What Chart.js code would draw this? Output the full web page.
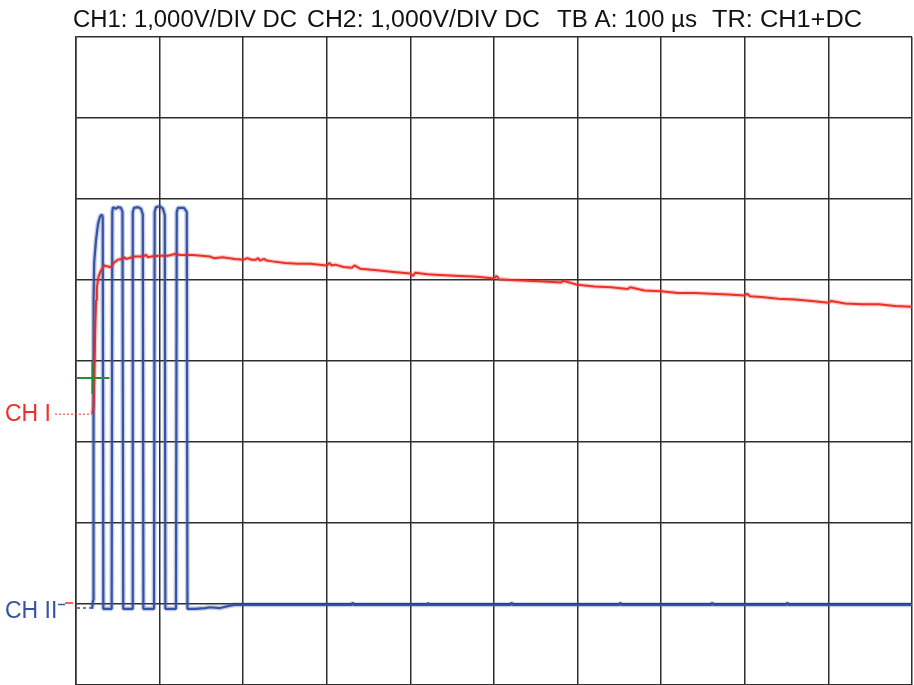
<!DOCTYPE html>
<html>
<head>
<meta charset="utf-8">
<script src="https://cdn.jsdelivr.net/npm/chart.js@4.4.1/dist/chart.umd.min.js"></script>
<style>
  html, body { margin: 0; padding: 0; background: #ffffff; }
  #scope { display: block; }
</style>
</head>
<body>
<canvas id="scope" width="914" height="685"></canvas>
<script>
// Header readout, split into its four groups
const headerGroups = ['CH1: 1,000V/DIV DC', 'CH2: 1,000V/DIV DC', 'TB A: 100 µs', 'TR: CH1+DC'];

// Time base: 100 µs per division, 10 divisions
const timeDivs = 10;
const usPerDiv = 100;
const voltDivs = 8;

// Channel ground levels, in divisions above the bottom of the screen
const ch1GroundDiv = 3.35;
const ch2GroundDiv = 1.0;

// Trigger cursor (CH1 + DC)
const triggerTimeUs = 19.6;
const triggerLevelV = 0.44;

// CH1 (red) - time in µs, voltage in V
const ch1Time = [19, 20, 21, 22, 23, 24, 25, 27, 29, 32, 34, 40, 42, 45, 50, 55, 58, 60, 70, 80, 84, 86, 90, 100, 110, 118,
  125, 140, 150, 160, 165, 175, 190, 200, 205, 210, 215, 218, 220, 225, 228, 235, 250, 265, 280, 300, 303, 306, 310,
  320, 330, 333, 340, 360, 380, 400, 403, 406, 420, 440, 460, 480, 500, 503, 506, 520, 540, 560, 580, 583, 600, 620,
  640, 660, 663, 680, 700, 720, 740, 760, 780, 800, 803, 806, 820, 840, 860, 880, 900, 903, 920, 940, 960, 980, 1000];
const ch1Volts = [0.00, 0.02, 0.10, 0.53, 1.02, 1.40, 1.56, 1.69, 1.75, 1.80, 1.83, 1.81, 1.81, 1.86, 1.90, 1.91, 1.93, 1.91,
  1.94, 1.94, 1.96, 1.93, 1.94, 1.95, 1.95, 1.97, 1.96, 1.96, 1.95, 1.94, 1.92, 1.93, 1.91, 1.90, 1.92, 1.90, 1.90, 1.92,
  1.89, 1.91, 1.89, 1.88, 1.86, 1.85, 1.85, 1.83, 1.86, 1.83, 1.84, 1.81, 1.80, 1.83, 1.79, 1.77, 1.75, 1.73, 1.70, 1.74,
  1.72, 1.71, 1.70, 1.69, 1.67, 1.70, 1.66, 1.65, 1.64, 1.63, 1.62, 1.64, 1.59, 1.57, 1.56, 1.54, 1.56, 1.52, 1.51, 1.49,
  1.49, 1.48, 1.47, 1.46, 1.48, 1.45, 1.44, 1.42, 1.41, 1.39, 1.37, 1.39, 1.36, 1.35, 1.35, 1.33, 1.32];

// CH2 (blue) - pulse burst, time in µs, voltage in V
const ch2Time = [19.1, 20.6, 21.0, 21.8, 23.9, 26.3, 28.7, 31.1, 32.0, 32.7, 41.9, 42.7, 43.4, 44.3, 47.8, 50.2, 53.8, 55.6,
  56.5, 67.0, 67.9, 69.4, 74.2, 77.8, 79.9, 80.6, 93.3, 94.1, 95.7, 100.5, 104.1, 106.2, 106.9, 119.6, 120.5, 122.0,
  129.2, 132.5, 133.3, 142.3, 154.3, 160.3, 172.3, 184.2, 190.2, 260, 330, 331, 332, 400, 420, 421, 422, 470, 520, 521,
  522, 560, 600, 650, 651, 652, 700, 760, 761, 762, 800, 850, 851, 852, 900, 960, 1000];
const ch2Volts = [-0.06, 0.05, 3.75, 4.22, 4.49, 4.69, 4.78, 4.81, 4.77, -0.06, -0.06, -0.02, 4.84, 4.90, 4.88, 4.90, 4.89,
  4.84, -0.06, -0.06, 4.84, 4.89, 4.90, 4.88, 4.81, -0.06, -0.06, 4.84, 4.90, 4.91, 4.88, 4.80, -0.06, -0.06, 4.84,
  4.89, 4.89, 4.84, -0.06, -0.06, -0.05, -0.04, -0.05, -0.02, -0.01, -0.01, -0.01, 0.02, -0.01, -0.01, -0.01, 0.02,
  -0.01, -0.01, -0.01, 0.02, -0.01, -0.01, -0.01, -0.01, 0.02, -0.01, -0.01, -0.01, 0.02, -0.01, -0.01, -0.01, 0.02,
  -0.01, -0.01, -0.01, -0.01];

const RED = '#ec2f27';
const BLUE = '#3552a6';
const GREEN = '#2a8a3a';
const GRID = '#2e2e2e';

function pairs(xs, ys) {
  return xs.map((x, i) => ({ x: x, y: ys[i] }));
}

const ch1Points = pairs(ch1Time, ch1Volts);
const ch2Points = pairs(ch2Time, ch2Volts);

// Screen overlays: header text, channel ground markers and trigger cursor
const scopeOverlay = {
  id: 'scopeOverlay',
  afterDatasetsDraw(chart) {
    const ctx = chart.ctx;
    const area = chart.chartArea;
    const xs = chart.scales.x;
    const y1 = chart.scales.ych1;

    // trigger cursor
    const tx = xs.getPixelForValue(triggerTimeUs);
    const ty = y1.getPixelForValue(triggerLevelV);
    ctx.save();
    ctx.strokeStyle = GREEN;
    ctx.lineWidth = 2;
    ctx.beginPath();
    ctx.moveTo(area.left + 1, ty);
    ctx.lineTo(tx + 17, ty);
    ctx.moveTo(tx, ty - 16);
    ctx.lineTo(tx, ty + 16);
    ctx.stroke();
    ctx.restore();
  },
  afterDraw(chart) {
    const ctx = chart.ctx;
    const area = chart.chartArea;
    const y1 = chart.scales.ych1;
    const y2 = chart.scales.ych2;
    const xs = chart.scales.x;

    // header readout
    ctx.save();
    ctx.fillStyle = '#111';
    ctx.font = '23px "Liberation Sans", Arial, sans-serif';
    ctx.textBaseline = 'alphabetic';
    const spans = [[73, 297], [307, 540], [557, 697], [712, 862]];
    headerGroups.forEach((txt, i) => {
      const w = ctx.measureText(txt).width;
      const target = spans[i][1] - spans[i][0];
      ctx.save();
      ctx.translate(spans[i][0], 27);
      ctx.scale(target / w, 1);
      ctx.fillText(txt, 0, 0);
      ctx.restore();
    });
    ctx.restore();

    // CH I ground marker
    const g1 = y1.getPixelForValue(0);
    const startX = xs.getPixelForValue(ch1Time[0]);
    ctx.save();
    ctx.fillStyle = RED;
    ctx.font = '23px "Liberation Sans", Arial, sans-serif';
    ctx.textBaseline = 'middle';
    ctx.textAlign = 'left';
    ctx.fillText('CH I', 5, g1 + 1);
    ctx.strokeStyle = RED;
    ctx.lineWidth = 1;
    ctx.setLineDash([2, 2]);
    ctx.beginPath();
    ctx.moveTo(55, g1 + 0.5);
    ctx.lineTo(startX, g1 + 0.5);
    ctx.stroke();
    ctx.restore();

    // CH II ground marker
    const g2 = y2.getPixelForValue(0);
    ctx.save();
    ctx.fillStyle = BLUE;
    ctx.font = '23px "Liberation Sans", Arial, sans-serif';
    ctx.textBaseline = 'middle';
    ctx.textAlign = 'left';
    ctx.fillText('CH II', 5, g2 + 8);
    ctx.strokeStyle = BLUE;
    ctx.lineWidth = 1.5;
    ctx.beginPath();
    ctx.moveTo(58, g2 + 0.5);
    ctx.lineTo(65, g2 + 0.5);
    ctx.stroke();
    ctx.strokeStyle = RED;
    ctx.beginPath();
    ctx.moveTo(65, g2 - 1);
    ctx.lineTo(73, g2 - 1);
    ctx.stroke();
    ctx.strokeStyle = BLUE;
    ctx.setLineDash([3, 3]);
    ctx.lineWidth = 1.5;
    ctx.beginPath();
    ctx.moveTo(area.left + 1, g2 + 4);
    ctx.lineTo(startX - 1, g2 + 4);
    ctx.stroke();
    ctx.restore();
  }
};

const hidden = { display: false };

new Chart(document.getElementById('scope'), {
  type: 'line',
  data: {
    datasets: [
      // soft glow under each trace, then the trace itself
      { data: ch1Points, yAxisID: 'ych1', borderColor: 'rgba(236,47,39,0.25)', borderWidth: 4.5 },
      { data: ch2Points, yAxisID: 'ych2', borderColor: 'rgba(53,82,166,0.28)', borderWidth: 5 },
      { data: ch1Points, yAxisID: 'ych1', borderColor: RED, borderWidth: 2 },
      { data: ch2Points, yAxisID: 'ych2', borderColor: BLUE, borderWidth: 2.2 }
    ]
  },
  options: {
    responsive: false,
    animation: false,
    events: [],
    layout: { padding: { left: 76, top: 37, right: 2, bottom: 0 } },
    elements: {
      point: { radius: 0 },
      line: { tension: 0, borderCapStyle: 'butt', borderJoinStyle: 'bevel' }
    },
    plugins: {
      legend: hidden,
      title: hidden,
      tooltip: { enabled: false }
    },
    scales: {
      x: {
        type: 'linear',
        min: 0,
        max: timeDivs * usPerDiv,
        ticks: { display: false, stepSize: usPerDiv },
        grid: { color: GRID, lineWidth: 1.5, drawTicks: false },
        border: { display: true, color: GRID, width: 1.5 },
        afterFit(s) { s.height = 0; }
      },
      y: {
        type: 'linear',
        min: 0,
        max: voltDivs,
        ticks: { display: false, stepSize: 1 },
        grid: { color: GRID, lineWidth: 1.5, drawTicks: false },
        border: { display: true, color: GRID, width: 1.5 },
        afterFit(s) { s.width = 0; }
      },
      ych1: {
        type: 'linear',
        display: false,
        min: -ch1GroundDiv,
        max: voltDivs - ch1GroundDiv
      },
      ych2: {
        type: 'linear',
        display: false,
        min: -ch2GroundDiv,
        max: voltDivs - ch2GroundDiv
      }
    }
  },
  plugins: [scopeOverlay]
});
</script>
</body>
</html>
